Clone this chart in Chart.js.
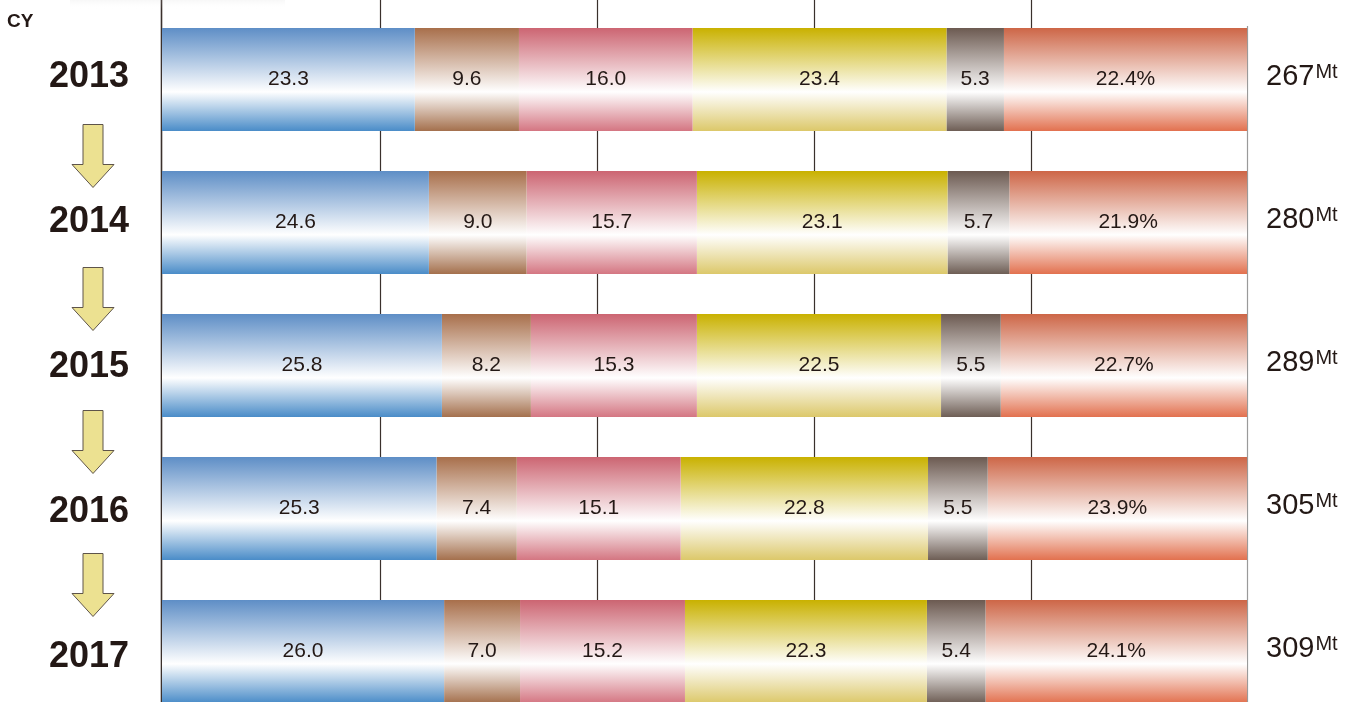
<!DOCTYPE html>
<html>
<head>
<meta charset="utf-8">
<script src="https://cdn.jsdelivr.net/npm/chart.js@4.4.1/dist/chart.umd.min.js"></script>
<style>
  html, body { margin: 0; padding: 0; background: #ffffff; overflow: hidden; }
  #wrap { position: relative; width: 1354px; height: 723px; }
</style>
</head>
<body>
<div id="wrap"><canvas id="c"></canvas></div>
<script>
// ---- data ----
const years = ['2013', '2014', '2015', '2016', '2017'];
const totals = ['267', '280', '289', '305', '309'];
const totalUnit = 'Mt';
const axisTitle = 'CY';
const gridTicks = [20, 40, 60, 80];

const seg1 = [23.3, 24.6, 25.8, 25.3, 26.0];
const seg2 = [9.6, 9.0, 8.2, 7.4, 7.0];
const seg3 = [16.0, 15.7, 15.3, 15.1, 15.2];
const seg4 = [23.4, 23.1, 22.5, 22.8, 22.3];
const seg5 = [5.3, 5.7, 5.5, 5.5, 5.4];
const seg6 = [22.4, 21.9, 22.7, 23.9, 24.1];

const segTop = ['#5e8ec6', '#a86f4b', '#cc6572', '#c9b100', '#6c5a51', '#cd6647'];
const segBot = ['#4a8cc8', '#a4704d', '#d47682', '#dcc86a', '#6e5e55', '#e2714f'];

const FONT = '"Liberation Sans", Arial, Helvetica, sans-serif';
const INK = '#231815';

function gradFor(i) {
  return function (ctx) {
    const chart = ctx.chart;
    const area = chart.chartArea;
    if (!area) return segTop[i];
    const ys = chart.scales.y;
    const yc = ys.getPixelForValue(ctx.dataIndex);
    const band = ys.height / years.length;
    const h = band * 0.72;
    const g = chart.ctx.createLinearGradient(0, yc - h / 2, 0, yc + h / 2);
    g.addColorStop(0, segTop[i]);
    g.addColorStop(0.62, '#ffffff');
    g.addColorStop(1, segBot[i]);
    return g;
  };
}

const segs = [seg1, seg2, seg3, seg4, seg5, seg6];
const datasets = segs.map((d, i) => ({
  label: 'S' + (i + 1),
  data: d,
  backgroundColor: gradFor(i),
  borderWidth: 0,
  categoryPercentage: 1.0,
  barPercentage: 0.72
}));

const decorPlugin = {
  id: 'decor',
  beforeDatasetsDraw(chart) {
    const c = chart.ctx, xs = chart.scales.x, H = chart.height;
    c.save();
    c.strokeStyle = '#3a302c';
    c.lineWidth = 1.2;
    gridTicks.forEach(v => {
      const x = Math.round(xs.getPixelForValue(v)) + 1.5;
      c.beginPath(); c.moveTo(x, 0); c.lineTo(x, H); c.stroke();
    });
    // left axis
    c.lineWidth = 1.6;
    const x0 = xs.getPixelForValue(0) - 0.5;
    c.beginPath(); c.moveTo(x0, 0); c.lineTo(x0, H); c.stroke();
    // right border
    c.strokeStyle = '#9a9a9a';
    c.lineWidth = 1.2;
    const x1 = xs.getPixelForValue(100) + 0.5;
    c.beginPath(); c.moveTo(x1, chart.chartArea.top + 18); c.lineTo(x1, H); c.stroke();
    // faint shadow at top-left
    const sg = c.createLinearGradient(0, 0, 0, 9);
    sg.addColorStop(0, 'rgba(200,200,200,0.14)');
    sg.addColorStop(1, 'rgba(255,255,255,0)');
    c.fillStyle = sg;
    c.fillRect(70, 0, 215, 9);
    c.restore();
  },
  afterDatasetsDraw(chart) {
    const c = chart.ctx, ys = chart.scales.y;
    c.save();
    // value labels
    c.fillStyle = INK;
    c.font = '21px ' + FONT;
    c.textAlign = 'center';
    c.textBaseline = 'alphabetic';
    chart.data.datasets.forEach((ds, di) => {
      const meta = chart.getDatasetMeta(di);
      meta.data.forEach((bar, j) => {
        const v = ds.data[j];
        const txt = v.toFixed(1) + (di === chart.data.datasets.length - 1 ? '%' : '');
        c.fillText(txt, (bar.x + bar.base) / 2, bar.y + 5);
      });
    });
    // CY
    c.textAlign = 'left';
    c.font = 'bold 19px ' + FONT;
    c.fillText(axisTitle, 7, 27);
    // years
    c.textAlign = 'center';
    c.font = 'bold 36px ' + FONT;
    years.forEach((y, i) => {
      const yc = ys.getPixelForValue(i) + (i - 2) * 2.2 - 1.5;
      c.fillText(y, 89, yc + 13);
    });
    // arrows
    for (let i = 0; i < years.length - 1; i++) {
      const cy = (ys.getPixelForValue(i) + ys.getPixelForValue(i + 1)) / 2 + 5;
      const cx = 93, top = cy - 31.5;
      c.beginPath();
      c.moveTo(cx - 10, top);
      c.lineTo(cx + 10, top);
      c.lineTo(cx + 10, top + 40);
      c.lineTo(cx + 21, top + 40);
      c.lineTo(cx, top + 63);
      c.lineTo(cx - 21, top + 40);
      c.lineTo(cx - 10, top + 40);
      c.closePath();
      c.fillStyle = '#ece191';
      c.fill();
      c.strokeStyle = '#5e544a';
      c.lineWidth = 1;
      c.stroke();
    }
    // totals
    c.fillStyle = INK;
    totals.forEach((t, i) => {
      const yc = ys.getPixelForValue(i) - 5;
      c.textAlign = 'left';
      c.font = '29px ' + FONT;
      const base = yc + 10.5;
      c.fillText(t, 1266, base);
      const w = c.measureText(t).width;
      c.font = '20px ' + FONT;
      c.fillText(totalUnit, 1266 + w + 1, base - 7);
    });
    c.restore();
  }
};

new Chart(document.getElementById('c'), {
  type: 'bar',
  data: { labels: years, datasets },
  options: {
    indexAxis: 'y',
    responsive: true,
    maintainAspectRatio: false,
    animation: false,
    layout: { padding: { left: 162, right: 107, top: 8, bottom: 0 } },
    plugins: { legend: { display: false }, tooltip: { enabled: false } },
    scales: {
      x: { stacked: true, min: 0, max: 100, display: false },
      y: { stacked: true, display: false }
    }
  },
  plugins: [decorPlugin]
});
</script>
</body>
</html>
